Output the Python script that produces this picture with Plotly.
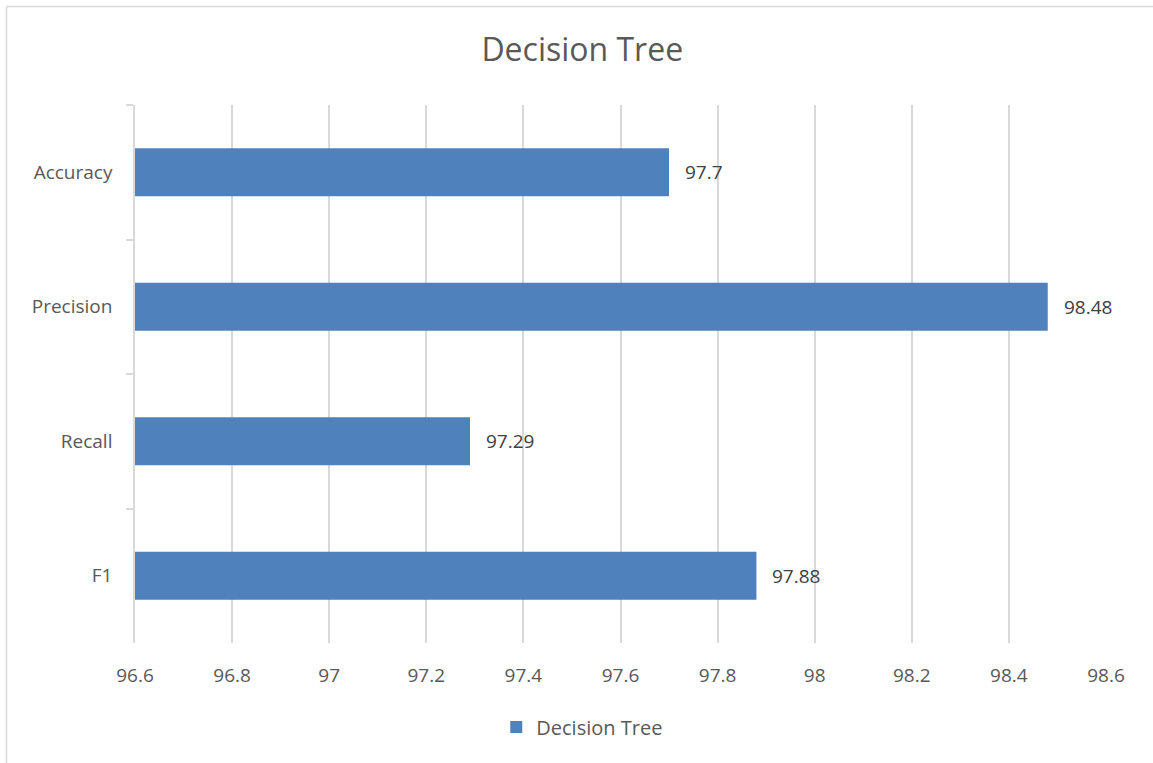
import plotly.graph_objects as go

# Metric scores for the decision tree classifier
metrics = ["Accuracy", "Precision", "Recall", "F1"]
scores = [97.7, 98.48, 97.29, 97.88]
x_ticks = [96.6, 96.8, 97.0, 97.2, 97.4, 97.6, 97.8, 98.0, 98.2, 98.4, 98.6]
x_tick_text = ["96.6", "96.8", "97", "97.2", "97.4", "97.6", "97.8", "98", "98.2", "98.4", "98.6"]

BAR = "#4f81bd"
GRID = "#d9d9d9"
TEXT = "#595959"
FONT = "Open Sans, Lato, sans-serif"

W, H = 1153, 763
L, R, T, B = 135, 47, 105, 120
pw, ph = W - L - R, H - T - B

fig = go.Figure(
    go.Bar(
        x=scores,
        y=metrics,
        orientation="h",
        name="Decision Tree",
        marker=dict(color=BAR, line=dict(width=0)),
        width=0.357,
    )
)

# Value labels to the right of each bar end
for m, v in zip(metrics, scores):
    fig.add_annotation(x=v, y=m, text=f"{v:g}", showarrow=False,
                       xanchor="left", yanchor="middle", xshift=14,
                       font=dict(family=FONT, size=19, color="#404040"))


def px_x(p):
    return (p - L) / pw


def px_y(p):
    return (H - B - p) / ph


# Outer chart frame: left and top edges
fig.add_shape(type="line", xref="paper", yref="paper",
              x0=px_x(6.5), x1=px_x(6.5), y0=px_y(6.5), y1=px_y(H + 5),
              line=dict(color=GRID, width=1.5))
fig.add_shape(type="line", xref="paper", yref="paper",
              x0=px_x(6.5), x1=px_x(W + 5), y0=px_y(6.5), y1=px_y(6.5),
              line=dict(color=GRID, width=1.5))

fig.update_layout(
    width=W,
    height=H,
    margin=dict(l=L, r=R, t=T, b=B),
    paper_bgcolor="white",
    plot_bgcolor="white",
    font=dict(family=FONT, color=TEXT),
    title=dict(text="Decision Tree", x=0.505, xref="container", xanchor="center",
               y=1 - 50 / H, yref="container", yanchor="middle",
               font=dict(family=FONT, size=32, color=TEXT)),
    bargap=0.643,
    showlegend=True,
    legend=dict(orientation="h", xref="container", yref="container",
                x=0.505, xanchor="center", y=1 - 727 / H, yanchor="middle",
                font=dict(family=FONT, size=20, color=TEXT),
                itemwidth=30),
    xaxis=dict(range=[96.6, 98.6], tickvals=x_ticks, ticktext=x_tick_text,
               showgrid=True, gridcolor=GRID, gridwidth=1.5,
               zeroline=False, showline=False, ticks="",
               tickfont=dict(family=FONT, size=19, color=TEXT),
               ticklabelstandoff=19),
    yaxis=dict(categoryorder="array", categoryarray=metrics, autorange="reversed",
               showgrid=False, showline=True, linecolor=GRID, linewidth=1.5,
               ticks="outside", tickson="boundaries", ticklen=7, tickcolor=GRID,
               tickwidth=1.5,
               tickfont=dict(family=FONT, size=19, color=TEXT),
               ticklabelstandoff=17),
)

fig.write_html("out.html")
